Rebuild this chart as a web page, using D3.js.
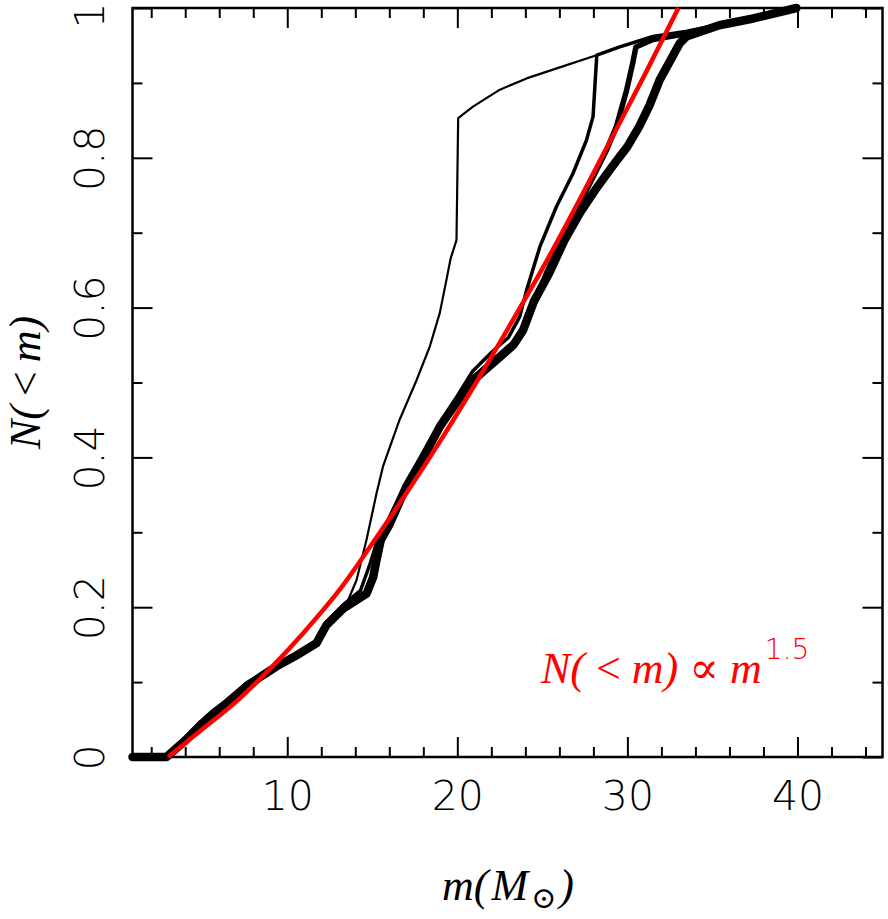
<!DOCTYPE html>
<html>
<head>
<meta charset="utf-8">
<script src="https://cdn.jsdelivr.net/npm/d3@7/dist/d3.min.js"></script>
<style>
  body { margin: 0; background: #fff; }
  .tick text { font-family: 'DejaVu Sans', sans-serif; font-weight: 200; font-size: 41px; fill: #000; }
  .tick line { stroke: #000; stroke-width: 2px; }
  .math { font-family: 'Liberation Serif', 'DejaVu Serif', serif; font-style: italic; font-weight: normal; }
</style>
</head>
<body>
<div id="chart"></div>
<script>
// cumulative mass functions: [mass, N(<m)]
const mainCurve = [[0.9,0],[2.9,0],[4,0.022],[5,0.045],[5.64,0.058],[6.5,0.073],[7.6,0.094],[8.5,0.108],[9.37,0.121],[10.5,0.135],[11.72,0.152],[12.3,0.176],[13.28,0.198],[14.66,0.218],[15.05,0.24],[15.25,0.263],[15.5,0.29],[16,0.31],[17,0.361],[18,0.4],[18.97,0.441],[20,0.475],[20.93,0.503],[22.5,0.534],[23.3,0.55],[23.87,0.57],[24.5,0.608],[25.4,0.646],[26.3,0.69],[27.2,0.726],[28.2,0.76],[29.1,0.788],[30,0.815],[30.7,0.842],[31.3,0.87],[31.9,0.904],[33.08,0.953],[33.47,0.962],[35.4,0.977],[37.4,0.986],[39.94,1]];
const jump20Curve = [[0.9,0],[2.9,0],[5,0.048],[7.6,0.1],[9.37,0.124],[11.72,0.155],[12.5,0.18],[13.5,0.205],[14.07,0.236],[14.66,0.29],[15.25,0.352],[15.63,0.388],[16.6,0.45],[17.6,0.503],[18.38,0.548],[18.97,0.593],[19.36,0.637],[19.6,0.665],[19.95,0.69],[20.05,0.853],[20.9,0.868],[22.5,0.891],[24.07,0.906],[25.8,0.919],[28.18,0.937],[29.55,0.948],[31.5,0.962],[33.5,0.968],[35.4,0.978],[37.4,0.987],[39.94,1]];
const jump28Curve = [[0.9,0],[2.9,0],[5,0.047],[7.6,0.097],[9.37,0.123],[11.72,0.154],[12.3,0.18],[13.28,0.203],[14.3,0.222],[14.9,0.26],[15.3,0.29],[16,0.32],[17,0.366],[18,0.407],[19,0.447],[20,0.482],[20.9,0.515],[22,0.54],[23,0.56],[23.67,0.588],[24.07,0.623],[24.85,0.681],[25.83,0.735],[26.8,0.779],[27.6,0.824],[27.98,0.855],[28.2,0.937],[29.55,0.948],[31.5,0.962],[33.5,0.969],[35.4,0.978],[37.4,0.987],[39.94,1]];
const jump30Curve = [[0.9,0],[2.9,0],[5,0.046],[7.6,0.095],[9.37,0.122],[11.72,0.153],[12.3,0.178],[13.28,0.2],[14.66,0.219],[15.1,0.245],[15.4,0.28],[16,0.312],[17,0.362],[18,0.402],[19,0.443],[20,0.477],[20.93,0.506],[22.5,0.537],[23.3,0.553],[23.87,0.572],[24.45,0.601],[25.24,0.646],[26.4,0.704],[27.6,0.757],[28.77,0.81],[29.36,0.842],[29.95,0.89],[30.3,0.925],[30.5,0.948],[31.5,0.958],[33.5,0.966],[35.4,0.977],[37.4,0.986],[39.94,1]];
// red power-law reference curve
const powerLaw = [[3,0],[5,0.037],[7,0.074],[9,0.118],[11,0.167],[13,0.221],[15,0.285],[17,0.352],[19,0.422],[21,0.496],[23,0.573],[25,0.652],[27,0.736],[29,0.823],[31,0.91],[33,1]];

const xMajor = [10, 20, 30, 40];
const yMajor = [0, 0.2, 0.4, 0.6, 0.8, 1];

const width = 888;
const height = 919;
const plot = { left: 132.5, right: 882.5, top: 8, bottom: 757 };

const x = d3.scaleLinear().domain([0.9, 45]).range([plot.left, plot.right]);
const y = d3.scaleLinear().domain([0, 1]).range([plot.bottom, plot.top]);

const svg = d3.select('#chart')
  .append('svg')
  .attr('width', width)
  .attr('height', height);

// minor ticks every 2 in mass, every 0.1 in N
const xMinor = d3.range(2, 45, 2).filter(d => d % 10 !== 0);
const yMinor = d3.range(0.1, 1, 0.2);

function addAxis(axis, tx, ty) {
  const g = svg.append('g').attr('transform', `translate(${tx},${ty})`).call(axis);
  g.select('.domain').remove();
  return g;
}

// bottom
addAxis(d3.axisBottom(x).tickValues(xMajor).tickSizeInner(-20).tickSizeOuter(0).tickPadding(24)
  .tickFormat(d3.format('~g')), 0, plot.bottom);
addAxis(d3.axisBottom(x).tickValues(xMinor).tickSizeInner(-10).tickSizeOuter(0).tickFormat(''), 0, plot.bottom);
// top
addAxis(d3.axisTop(x).tickValues(xMajor).tickSizeInner(-20).tickSizeOuter(0).tickFormat(''), 0, plot.top);
addAxis(d3.axisTop(x).tickValues(xMinor).tickSizeInner(-10).tickSizeOuter(0).tickFormat(''), 0, plot.top);
// left, labels turned on their side
const yAxisG = addAxis(d3.axisLeft(y).tickValues(yMajor).tickSizeInner(-20).tickSizeOuter(0)
  .tickFormat(d3.format('~g')), plot.left, 0);
yAxisG.selectAll('.tick text')
  .attr('transform', 'rotate(-90)')
  .attr('x', d => (d === 1 ? -7 : 0)) // keep the top label inside the page
  .attr('y', -29)
  .attr('dy', 0)
  .attr('text-anchor', 'middle');
addAxis(d3.axisLeft(y).tickValues(yMinor).tickSizeInner(-10).tickSizeOuter(0).tickFormat(''), plot.left, 0);
// right
addAxis(d3.axisRight(y).tickValues(yMajor).tickSizeInner(-20).tickSizeOuter(0).tickFormat(''), plot.right, 0);
addAxis(d3.axisRight(y).tickValues(yMinor).tickSizeInner(-10).tickSizeOuter(0).tickFormat(''), plot.right, 0);

// frame
svg.append('rect')
  .attr('x', plot.left)
  .attr('y', plot.top)
  .attr('width', plot.right - plot.left)
  .attr('height', plot.bottom - plot.top)
  .attr('fill', 'none')
  .attr('stroke', '#000')
  .attr('stroke-width', 2.5);

const line = d3.line()
  .x(d => x(d[0]))
  .y(d => y(d[1]));

const curves = [
  { data: mainCurve, w: 8.5 },
  { data: jump30Curve, w: 5.5 },
  { data: jump28Curve, w: 3.5 },
  { data: jump20Curve, w: 2.2 },
];

svg.selectAll('.cmf')
  .data(curves)
  .enter()
  .append('path')
  .attr('class', 'cmf')
  .attr('d', d => line(d.data))
  .attr('fill', 'none')
  .attr('stroke', '#000')
  .attr('stroke-width', d => d.w)
  .attr('stroke-linejoin', 'round')
  .attr('stroke-linecap', 'round');

svg.append('path')
  .datum(powerLaw)
  .attr('d', d3.line().x(d => x(d[0])).y(d => y(d[1])).curve(d3.curveMonotoneX))
  .attr('fill', 'none')
  .attr('stroke', '#ff0000')
  .attr('stroke-width', 4.5);

// annotation, with relation spacing like the original typesetting
const note = svg.append('text')
  .attr('x', 541)
  .attr('y', 683)
  .attr('fill', '#ff0000')
  .attr('class', 'math')
  .style('font-size', '44px');
note.append('tspan').text('N(');
note.append('tspan').attr('dx', 11).style('font-style', 'normal').text('<');
note.append('tspan').attr('dx', 11).text('m)');
note.append('tspan').attr('dx', 11).style('font-style', 'normal').text('∝');
note.append('tspan').attr('dx', 11).text('m');
note.append('tspan')
  .attr('dx', 3)
  .attr('dy', -24)
  .style('font-family', "'DejaVu Sans', sans-serif")
  .style('font-style', 'normal')
  .style('font-weight', 200)
  .style('font-size', '28px')
  .text('1.5');

// x title
const xt = svg.append('text')
  .attr('x', 508)
  .attr('y', 900)
  .attr('text-anchor', 'middle')
  .attr('class', 'math')
  .style('font-size', '44px');
xt.append('tspan').text('m(');
xt.append('tspan').attr('dx', 3).text('M');
xt.append('tspan').attr('dx', 3).attr('dy', 8).style('font-size', '30px').style('font-style', 'normal').text('⊙');
xt.append('tspan').attr('dx', 3).attr('dy', -8).text(')');

// y title
const yt = svg.append('text')
  .attr('transform', `translate(40,${(plot.top + plot.bottom) / 2}) rotate(-90)`)
  .attr('text-anchor', 'middle')
  .attr('class', 'math')
  .style('font-size', '44px');
yt.append('tspan').text('N(');
yt.append('tspan').attr('dx', 9).style('font-style', 'normal').text('<');
yt.append('tspan').attr('dx', 9).text('m)');
</script>
</body>
</html>
